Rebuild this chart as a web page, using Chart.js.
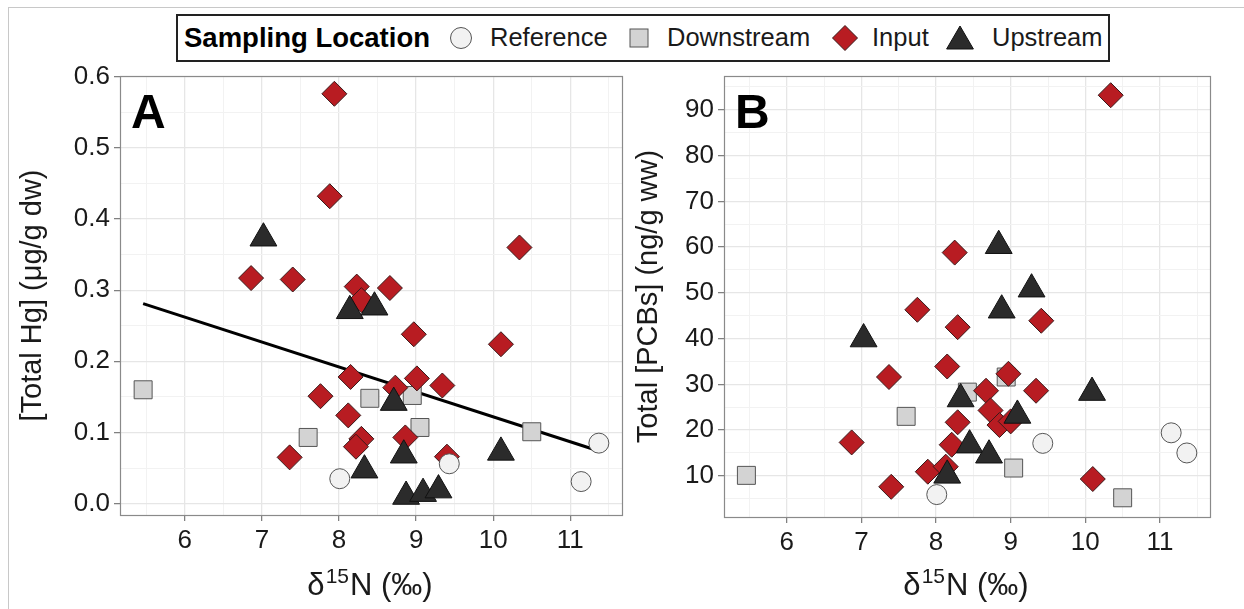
<!DOCTYPE html>
<html><head><meta charset="utf-8">
<script src="https://cdn.jsdelivr.net/npm/chart.js@4.4.1/dist/chart.umd.min.js"></script>
<style>
html,body{margin:0;padding:0;background:#fff;}
body{width:1244px;height:609px;position:relative;overflow:hidden;font-family:"Liberation Sans",Arial,sans-serif;}
#frame{position:absolute;left:8px;top:7px;width:1300px;height:700px;border:1px solid #c8c8c8;}
canvas{position:absolute;top:0;}
#cA{left:0;}
#cB{left:620px;}
#legend{position:absolute;left:176px;top:14px;width:930px;height:44px;border:2px solid #222;background:#fff;z-index:2;}
.lg{position:absolute;top:50%;transform:translateY(-50%);font-size:25.5px;color:#1a1a1a;white-space:nowrap;line-height:1;}
.lg.b{font-weight:bold;font-size:27.5px;color:#000;}
svg.lg{display:block;}
</style>
</head>
<body>
<div id="frame"></div>
<canvas id="cA" width="640" height="609"></canvas>
<canvas id="cB" width="624" height="609"></canvas>
<div id="legend">
  <span class="lg b" style="left:6px">Sampling Location</span>
  <svg class="lg" style="left:271px" width="24" height="24" viewBox="0 0 24 24"><circle cx="12" cy="12" r="10.5" fill="#f2f2f2" stroke="#555" stroke-width="1"/></svg>
  <span class="lg" style="left:312px">Reference</span>
  <svg class="lg" style="left:449px" width="24" height="24" viewBox="0 0 24 24"><rect x="3" y="3" width="18" height="18" fill="#d3d3d3" stroke="#555" stroke-width="1"/></svg>
  <span class="lg" style="left:489px">Downstream</span>
  <svg class="lg" style="left:653px" width="28" height="28" viewBox="0 0 28 28"><polygon points="1.5,14 14,1.5 26.5,14 14,26.5" fill="#b81c22" stroke="#3a1a1a" stroke-width="1"/></svg>
  <span class="lg" style="left:694px">Input</span>
  <svg class="lg" style="left:766px" width="32" height="28" viewBox="0 0 32 28"><polygon points="16,2 29.4,25 2.6,25" fill="#2b2b2b" stroke="#111" stroke-width="1"/></svg>
  <span class="lg" style="left:814px">Upstream</span>
</div>
<script>
// ---------- data ----------
const xTickValues = [6, 7, 8, 9, 10, 11];
const xTickLabels = ['6', '7', '8', '9', '10', '11'];
const hgTickValues = [0, 0.1, 0.2, 0.3, 0.4, 0.5, 0.6];
const hgTickLabels = ['0.0', '0.1', '0.2', '0.3', '0.4', '0.5', '0.6'];
const pcbTickValues = [10, 20, 30, 40, 50, 60, 70, 80, 90];
const pcbTickLabels = ['10', '20', '30', '40', '50', '60', '70', '80', '90'];

const categories = ['Reference', 'Downstream', 'Input', 'Upstream'];

// Panel A: Total Hg (µg/g dw) vs d15N
const refX_A = [8.01, 9.43, 11.37, 11.14];
const refY_A = [0.035, 0.056, 0.085, 0.031];
const downX_A = [5.46, 8.40, 8.95, 7.60, 9.05, 10.50];
const downY_A = [0.160, 0.148, 0.152, 0.093, 0.107, 0.101];
const inputX_A = [7.94, 7.88, 6.86, 7.40, 8.23, 8.29, 8.66, 10.34, 8.97, 10.10, 8.15, 9.01, 8.73, 9.34, 7.76, 8.12, 8.29, 8.22, 8.86, 7.36, 9.40];
const inputY_A = [0.576, 0.432, 0.317, 0.315, 0.305, 0.286, 0.303, 0.360, 0.238, 0.224, 0.178, 0.176, 0.163, 0.166, 0.151, 0.124, 0.091, 0.080, 0.093, 0.065, 0.066];
const upX_A = [7.02, 8.14, 8.46, 8.71, 8.33, 8.84, 8.87, 9.09, 9.29, 10.10];
const upY_A = [0.373, 0.271, 0.276, 0.142, 0.047, 0.068, 0.010, 0.014, 0.019, 0.072];
const fitX_A = [5.46, 11.37];
const fitY_A = [0.281, 0.074];

// Panel B: Total PCBs (ng/g ww) vs d15N
const refX_B = [8.01, 9.43, 11.15, 11.36];
const refY_B = [5.9, 17.1, 19.4, 15.0];
const downX_B = [5.46, 7.60, 8.42, 8.94, 9.04, 10.50];
const downY_B = [10.1, 23.0, 28.3, 31.6, 11.7, 5.2];
const inputX_B = [10.34, 8.25, 7.75, 8.29, 9.41, 8.15, 7.37, 8.97, 8.67, 9.34, 8.73, 8.29, 8.85, 9.00, 8.21, 6.87, 7.89, 8.13, 7.40, 10.10];
const inputY_B = [93.2, 58.8, 46.3, 42.5, 43.9, 33.9, 31.6, 32.3, 28.6, 28.6, 24.3, 21.7, 21.1, 21.9, 16.8, 17.3, 10.9, 12.0, 7.6, 9.3];
const upX_B = [8.84, 9.28, 8.88, 7.03, 10.09, 8.33, 9.09, 8.45, 8.71, 8.15];
const upY_B = [60.3, 50.8, 46.2, 39.9, 28.2, 26.8, 23.2, 16.7, 14.5, 10.1];

// ---------- helpers ----------
const FONT = '"Liberation Sans", Arial, Helvetica, sans-serif';
const zip = (xs, ys) => xs.map((x, i) => ({x, y: ys[i]}));
const near = (a, b) => Math.abs(a - b) < 1e-9;
function isMajor(list, v) { return list.some(t => near(t, v)); }
function gridValues(list, min, max) {
  const step = list[1] - list[0];
  const out = [];
  list.forEach(v => { out.push(v); out.push(v - step / 2); out.push(v + step / 2); });
  const uniq = [];
  out.sort((a, b) => a - b).forEach(v => {
    if (v >= min - 1e-9 && v <= max + 1e-9 && !uniq.some(u => near(u, v))) uniq.push(v);
  });
  return uniq;
}
function labelFor(vals, labels, v) {
  const i = vals.findIndex(t => near(t, v));
  return i >= 0 ? labels[i] : '';
}

const styles = {
  Reference: {pointStyle: 'circle', radius: 10, bg: '#f2f2f2', border: '#555555', order: 1},
  Downstream: {pointStyle: 'rect', radius: 12.7, bg: '#d3d3d3', border: '#555555', order: 4},
  Input: {pointStyle: 'rectRot', radius: 12.5, bg: '#b81c22', border: '#3a1a1a', order: 3},
  Upstream: {pointStyle: 'triangle', radius: 15.5, bg: '#2b2b2b', border: '#111111', order: 2}
};
function pointSet(name, xs, ys) {
  const s = styles[name];
  return {
    label: name, data: zip(xs, ys), pointStyle: s.pointStyle, pointRadius: s.radius,
    pointBackgroundColor: s.bg, pointBorderColor: s.border, pointBorderWidth: 1,
    backgroundColor: s.bg, borderColor: s.border, showLine: false, order: s.order
  };
}

const decor = {
  id: 'decor',
  afterDraw(chart, args, opts) {
    const {ctx, chartArea: a} = chart;
    ctx.save();
    ctx.strokeStyle = '#8a8a8a';
    ctx.lineWidth = 1.2;
    ctx.strokeRect(Math.round(a.left) + 0.5, Math.round(a.top) + 0.5, Math.round(a.right - a.left), Math.round(a.bottom - a.top));
    ctx.fillStyle = '#000';
    ctx.textAlign = 'left';
    ctx.textBaseline = 'alphabetic';
    ctx.font = 'bold 48px ' + FONT;
    ctx.fillText(opts.letter, a.left + 11, a.top + 52);
    // x-axis title: delta^15 N (permil)
    const big = '31px ' + FONT, small = '21px ' + FONT;
    ctx.font = big;
    const w1 = ctx.measureText('δ').width;
    const w3 = ctx.measureText('N (‰)').width;
    ctx.font = small;
    const w2 = ctx.measureText('15').width;
    let x = (a.left + a.right) / 2 - (w1 + w2 + w3) / 2 - 2;
    const y = opts.titleBaseline;
    ctx.fillStyle = '#1a1a1a';
    ctx.font = big; ctx.fillText('δ', x, y); x += w1 + 1;
    ctx.font = small; ctx.fillText('15', x, y - 12); x += w2 + 1;
    ctx.font = big; ctx.fillText('N (‰)', x, y);
    ctx.restore();
  }
};

function axisCommon(vals, labels, min, max) {
  return {
    type: 'linear', min, max,
    afterBuildTicks: s => { s.ticks = gridValues(vals, min, max).map(v => ({value: v})); },
    border: {display: false},
    grid: {
      drawOnChartArea: true, drawTicks: true, tickLength: 6,
      color: c => (c.tick && isMajor(vals, c.tick.value)) ? '#e6e6e6' : '#f2f2f2',
      lineWidth: c => (c.tick && isMajor(vals, c.tick.value)) ? 1.3 : 1,
      tickColor: c => (c.tick && isMajor(vals, c.tick.value)) ? '#7a7a7a' : 'rgba(0,0,0,0)',
      tickWidth: 1.2
    },
    ticks: {
      autoSkip: false, maxRotation: 0, minRotation: 0,
      color: '#1a1a1a', font: {family: FONT, size: 26},
      callback: v => labelFor(vals, labels, v)
    }
  };
}

function makePanel(id, cfg) {
  const xs = axisCommon(xTickValues, xTickLabels, 5.16, 11.67);
  xs.ticks.padding = 4;
  xs.afterFit = s => { s.height = cfg.xAxisHeight; };
  const ys = axisCommon(cfg.yVals, cfg.yLabels, cfg.yMin, cfg.yMax);
  ys.ticks.padding = 4;
  ys.afterFit = s => { s.width = cfg.yAxisWidth; };
  ys.title = {display: true, text: cfg.yTitle, color: '#1a1a1a', font: {family: FONT, size: 29}, padding: {top: cfg.yTitlePad, bottom: 0}};
  return new Chart(document.getElementById(id), {
    type: 'scatter',
    data: {datasets: cfg.datasets},
    options: {
      responsive: false, animation: false, devicePixelRatio: 1, events: [],
      layout: {padding: {left: 0, top: 76, right: cfg.rightPad, bottom: 0}},
      plugins: {legend: {display: false}, tooltip: {enabled: false},
        decor: {letter: cfg.letter, titleBaseline: 595}},
      scales: {x: xs, y: ys}
    },
    plugins: [decor]
  });
}

makePanel('cA', {
  letter: 'A', yTitle: '[Total Hg] (μg/g dw)',
  yVals: hgTickValues, yLabels: hgTickLabels, yMin: -0.016, yMax: 0.601,
  yAxisWidth: 120, xAxisHeight: 94, rightPad: 18, yTitlePad: 16,
  datasets: [
    {label: 'fit', data: zip(fitX_A, fitY_A), showLine: true, pointRadius: 0, borderColor: '#000', borderWidth: 3, order: 10},
    pointSet('Downstream', downX_A, downY_A),
    pointSet('Input', inputX_A, inputY_A),
    pointSet('Upstream', upX_A, upY_A),
    pointSet('Reference', refX_A, refY_A)
  ]
});

makePanel('cB', {
  letter: 'B', yTitle: 'Total [PCBs] (ng/g ww)',
  yVals: pcbTickValues, yLabels: pcbTickLabels, yMin: 1.0, yMax: 97.4,
  yAxisWidth: 104, xAxisHeight: 92, rightPad: 34, yTitlePad: 12,
  datasets: [
    pointSet('Downstream', downX_B, downY_B),
    pointSet('Input', inputX_B, inputY_B),
    pointSet('Upstream', upX_B, upY_B),
    pointSet('Reference', refX_B, refY_B)
  ]
});
</script>
</body></html>
